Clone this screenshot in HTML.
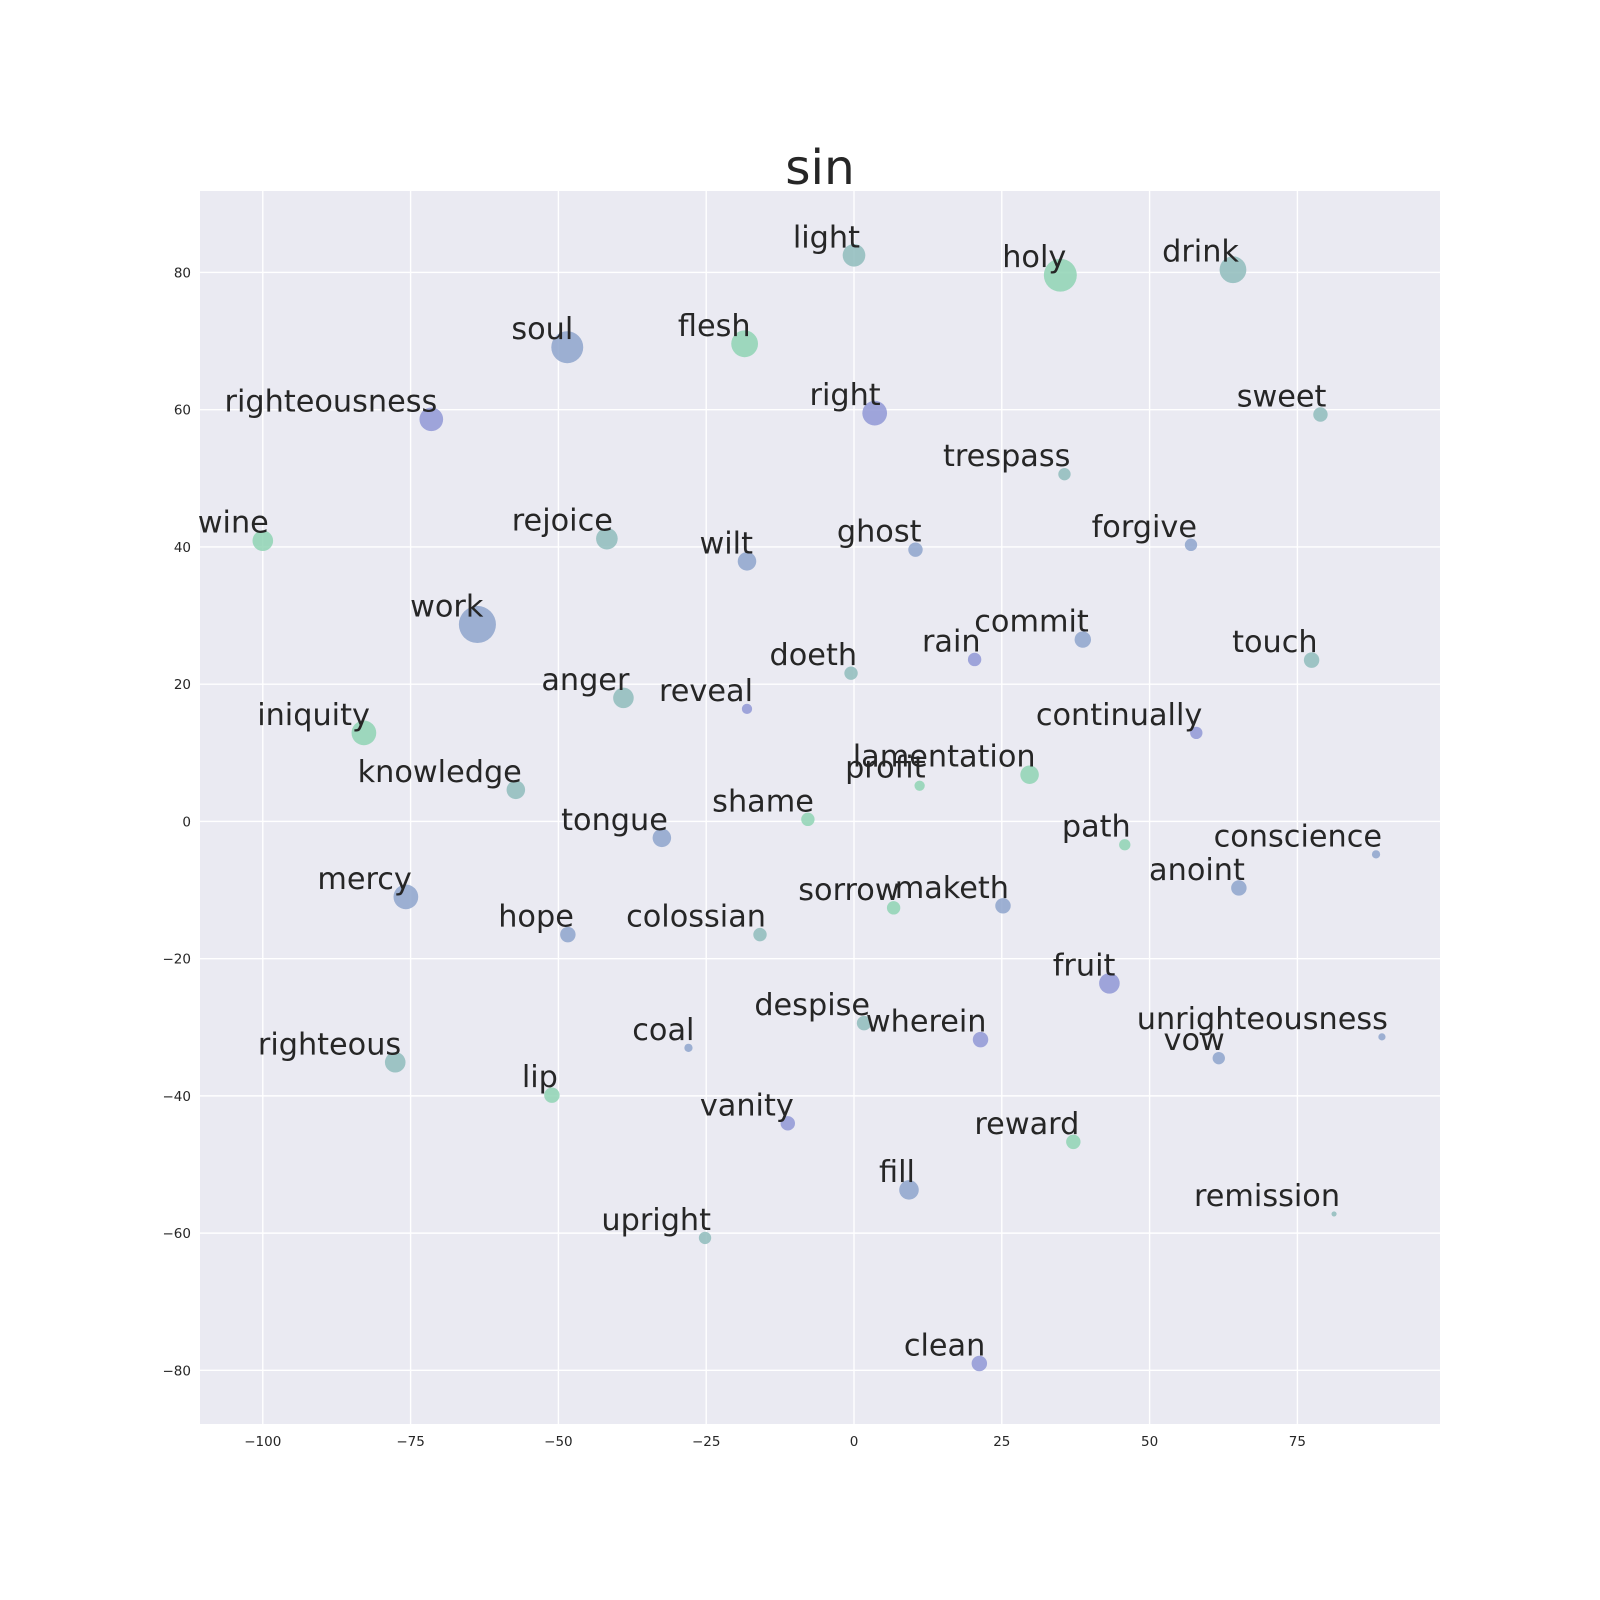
<!DOCTYPE html>
<html><head><meta charset="utf-8"><style>
html,body{margin:0;padding:0;background:#fff;}
svg{display:block;font-family:"DejaVu Sans","Liberation Sans",sans-serif;}
</style></head><body>
<svg id="chart" width="1600" height="1600" viewBox="0 0 1600 1600" xmlns="http://www.w3.org/2000/svg">
<text x="820" y="184" font-size="48.5" fill="#262626" text-anchor="middle">sin</text>
</svg>
<script>
const words = ["light","holy","drink","soul","flesh","righteousness","right","sweet","trespass","wine","rejoice","wilt","ghost","forgive","work","commit","rain","touch","doeth","anger","reveal","iniquity","continually","lamentation","profit","knowledge","shame","tongue","path","conscience","anoint","mercy","maketh","sorrow","hope","colossian","fruit","despise","wherein","coal","unrighteousness","vow","righteous","lip","vanity","reward","fill","remission","upright","clean"];
const xs = [0,34.9,64.1,-48.5,-18.5,-71.5,3.5,78.9,35.6,-100,-41.8,-18.1,10.4,57,-63.7,38.7,20.4,77.4,-0.5,-39,-18.1,-82.9,57.9,29.7,11.1,-57.2,-7.8,-32.5,45.8,88.3,65.1,-75.8,25.2,6.7,-48.4,-15.9,43.2,1.7,21.4,-28,89.3,61.7,-77.6,-51.1,-11.2,37.1,9.3,81.2,-25.2,21.2];
const ys = [82.5,79.6,80.4,69.1,69.6,58.6,59.5,59.3,50.6,40.9,41.2,37.9,39.6,40.3,28.7,26.5,23.6,23.5,21.6,18,16.4,12.9,12.9,6.8,5.2,4.6,0.3,-2.4,-3.4,-4.8,-9.7,-11,-12.3,-12.6,-16.5,-16.5,-23.6,-29.4,-31.8,-33,-31.4,-34.5,-35.1,-39.9,-44,-46.7,-53.7,-57.2,-60.7,-79];
const sizes = [11,16,13,15.5,13,11.5,12,7,6,10,10.5,9,7,6,18,8,6.5,7.5,6.5,10,5,12,6,9,5,9,6.5,9,5.5,4,7.5,12,7.5,6.5,7.5,6.5,10,7,7.5,4,3.5,6,10,7.5,7,7,9.5,2.5,6,7.5];
const groups = [1,0,1,2,0,3,3,1,1,0,1,2,2,2,2,2,3,1,1,1,3,0,3,0,0,1,0,2,0,2,2,2,2,0,2,1,3,1,3,2,2,2,1,0,3,0,2,1,1,3];
const xTicks = [-100,-75,-50,-25,0,25,50,75];
const yTicks = [-80,-60,-40,-20,0,20,40,60,80];
const palette = ["#8fd3b4","#8fbcbc","#8ea5cc","#9098d6"];
const L=200,R=1440,T=191,B=1424, X0=854, SX=5.912, Y0=821.4, SY=6.862;
const xs_ = v => X0 + v*SX, ys_ = v => Y0 - v*SY;
const NS="http://www.w3.org/2000/svg", svg=document.getElementById('chart');
function mk(tag, attrs, parent){const e=document.createElementNS(NS,tag);for(const k in attrs)e.setAttribute(k,attrs[k]);(parent||svg).appendChild(e);return e;}
const bg=mk('rect',{x:L,y:T,width:R-L,height:B-T,fill:'#eaeaf2'});


xTicks.forEach(t=>{
  const g=mk('line',{x1:xs_(t),x2:xs_(t),y1:T,y2:B,stroke:'#fff','stroke-width':1.4});
  
  
  const lb=mk('text',{x:xs_(t),y:B+22,'font-size':13.5,fill:'#262626','text-anchor':'middle'});
  lb.textContent=(t<0?'\u2212'+(-t):t);
  
  
});
yTicks.forEach(t=>{
  const g=mk('line',{x1:L,x2:R,y1:ys_(t),y2:ys_(t),stroke:'#fff','stroke-width':1.4});
  
  
  const lb=mk('text',{x:L-9,y:ys_(t)+5,'font-size':13.5,fill:'#262626','text-anchor':'end'});
  lb.textContent=(t<0?'\u2212'+(-t):t);
  
  
});
words.forEach((w,i)=>{
  const cx=xs_(xs[i]), cy=ys_(ys[i]);
  const c=mk('circle',{cx:cx,cy:cy,r:sizes[i]*1.03,fill:palette[groups[i]],'fill-opacity':0.85});
  
  
});
words.forEach((w,i)=>{
  const cx=xs_(xs[i]), cy=ys_(ys[i]);
  const t=mk('text',{x:cx+6,y:cy-8,'font-size':30.3,fill:'#262626','text-anchor':'end'});
  t.textContent=w;
  
  
});
</script>
</body></html>
